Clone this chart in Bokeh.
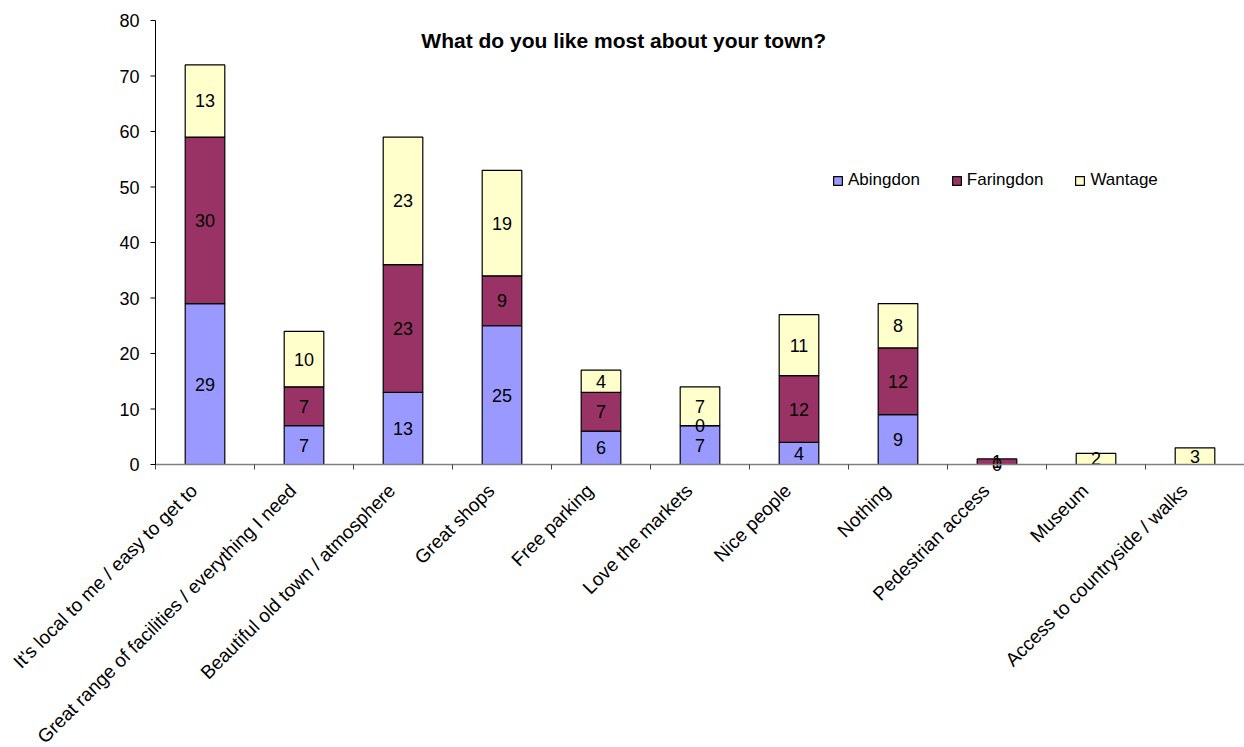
import math
from bokeh.plotting import figure
from bokeh.models import (ColumnDataSource, Range1d, Label, Legend, LegendItem)
from bokeh.core.properties import value
from bokeh.embed import file_html
from bokeh.resources import INLINE

categories = [
    "It's local to me / easy to get to",
    "Great range of facilities / everything I need",
    "Beautiful old town / atmosphere",
    "Great shops",
    "Free parking",
    "Love the markets",
    "Nice people",
    "Nothing",
    "Pedestrian access",
    "Museum",
    "Access to countryside / walks",
]
series_names = ["Abingdon", "Faringdon", "Wantage"]
abingdon = [29, 7, 13, 25, 6, 7, 4, 9, 0, None, None]
faringdon = [30, 7, 23, 9, 7, 0, 12, 12, 1, None, None]
wantage = [13, 10, 23, 19, 4, 7, 11, 8, None, 2, 3]
colors = ["#9999FF", "#993366", "#FFFFCC"]
y_ticks = [0, 10, 20, 30, 40, 50, 60, 70, 80]
title_text = "What do you like most about your town?"

FONT = "Liberation Sans"
W, H = 1244, 747
TOP, LEFT, AXIS_PX = 20, 155, 464          # pixel rows/cols of the plot area
YMAX = 80
NCAT = len(categories)
py = (AXIS_PX - TOP) / YMAX                 # pixels per y unit
px = (W - LEFT) / NCAT                      # pixels per category
ymin = -(H - AXIS_PX) / py
ytop = YMAX + TOP / py
xmin = -LEFT / px

# frame covers the whole canvas so that no text is clipped
p = figure(width=W, height=H, output_backend="svg", toolbar_location=None,
           x_range=Range1d(xmin, NCAT), y_range=Range1d(ymin, ytop),
           x_axis_location=None, y_axis_location=None,
           min_border=0)
p.outline_line_color = None
p.xgrid.visible = False
p.ygrid.visible = False
p.background_fill_color = "white"
p.border_fill_color = "white"

series = [abingdon, faringdon, wantage]
bottoms = [0.0] * NCAT
renderers = []
label_x, label_y, label_t = [], [], []
for name, vals, col in zip(series_names, series, colors):
    xs, bs, ts = [], [], []
    for i, v in enumerate(vals):
        if v is None:
            continue
        xs.append(i + 0.5)
        bs.append(bottoms[i])
        ts.append(bottoms[i] + v)
        label_x.insert(0, i + 0.5)
        label_y.insert(0, bottoms[i] + v / 2)
        label_t.insert(0, str(v))
        bottoms[i] += v
    src = ColumnDataSource(dict(x=xs, bottom=bs, top=ts))
    r = p.vbar(x="x", bottom="bottom", top="top", width=0.4, source=src,
               fill_color=col, line_color="black", line_width=1.2)
    renderers.append(r)

lsrc = ColumnDataSource(dict(x=label_x, y=label_y, t=label_t))
p.text(x="x", y="y", text="t", source=lsrc, text_align="center",
       text_baseline="middle", text_font=value(FONT), text_font_size="18px",
       text_color="black")

# x axis: line at y = 0, boundary ticks, rotated category labels
p.segment(x0=[0], y0=[0], x1=[NCAT], y1=[0], line_color="#808080", line_width=1.5)
bnd = list(range(NCAT + 1))
p.ray(x=bnd, y=[0] * len(bnd), length=5, length_units="screen",
      angle=-math.pi / 2, line_color="#444444", line_width=1)
csrc = ColumnDataSource(dict(x=[i + 0.5 for i in range(NCAT)], y=[0] * NCAT, t=categories))
p.text(x="x", y="y", text="t", source=csrc, angle=math.pi / 4,
       x_offset=-11, y_offset=23, text_align="right", text_baseline="middle",
       text_font=value(FONT), text_font_size="19px", text_color="black")

# y axis: line at x = 0, ticks and labels
p.segment(x0=[0], y0=[0], x1=[0], y1=[YMAX], line_color="black", line_width=1)
p.ray(x=[0] * len(y_ticks), y=y_ticks, length=5, length_units="screen",
      angle=math.pi, line_color="black", line_width=1)
ysrc = ColumnDataSource(dict(x=[0] * len(y_ticks), y=y_ticks, t=[str(v) for v in y_ticks]))
p.text(x="x", y="y", text="t", source=ysrc, x_offset=-16, text_align="right",
       text_baseline="middle", text_font=value(FONT), text_font_size="18px",
       text_color="black")

title = Label(x=4.73, y=76.4, text=title_text, text_align="center",
              text_baseline="middle", text_font=FONT, text_font_size="21px",
              text_font_style="bold", text_color="black")
p.add_layout(title)

legend = Legend(items=[LegendItem(label=n, renderers=[r]) for n, r in zip(series_names, renderers)],
                orientation="horizontal", location=(677 + LEFT, 274 + (H - AXIS_PX)),
                glyph_width=11, glyph_height=11, label_text_font=FONT,
                label_text_font_size="17px", label_text_color="black",
                spacing=31, padding=0, margin=0,
                label_standoff=5, border_line_color=None, background_fill_alpha=0)
p.add_layout(legend)

open("out.html", "w").write(file_html(p, INLINE))
